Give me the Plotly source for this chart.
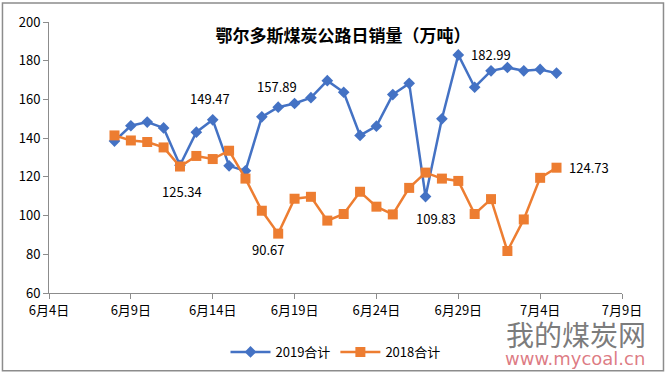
import plotly.graph_objects as go

dates = ["2019-06-08","2019-06-09","2019-06-10","2019-06-11","2019-06-12","2019-06-13","2019-06-14",
         "2019-06-15","2019-06-16","2019-06-17","2019-06-18","2019-06-19","2019-06-20","2019-06-21",
         "2019-06-22","2019-06-23","2019-06-24","2019-06-25","2019-06-26","2019-06-27","2019-06-28",
         "2019-06-29","2019-06-30","2019-07-01","2019-07-02","2019-07-03","2019-07-04","2019-07-05"]
s2019 = [138.5,146.4,148.3,145.3,126.0,143.1,149.47,125.7,123.1,151.0,156.0,157.89,160.9,169.7,
         163.7,141.4,146.2,162.5,168.3,109.83,150.0,182.99,166.3,174.8,176.5,174.8,175.5,173.6]
s2018 = [141.4,138.8,138.0,135.2,125.34,130.8,129.2,133.5,119.1,102.5,90.67,108.7,109.7,97.4,
         100.8,112.3,104.6,100.6,114.3,122.2,119.1,117.9,100.8,108.5,81.7,98.0,119.5,124.73]
tick_vals = ["2019-06-04","2019-06-09","2019-06-14","2019-06-19","2019-06-24","2019-06-29","2019-07-04","2019-07-09"]
tick_text = ["6月4日","6月9日","6月14日","6月19日","6月24日","6月29日","7月4日","7月9日"]
name2019 = "2019合计"
name2018 = "2018合计"
title = "鄂尔多斯煤炭公路日销量（万吨）"

BLUE = "#4472C4"
ORANGE = "#ED7D31"
FONT = "Noto Sans CJK SC"

fig = go.Figure()
fig.add_trace(go.Scatter(x=dates, y=s2019, name=name2019, mode="lines+markers",
                         line=dict(color=BLUE, width=2.5),
                         marker=dict(symbol="diamond", size=9, color=BLUE)))
fig.add_trace(go.Scatter(x=dates, y=s2018, name=name2018, mode="lines+markers",
                         line=dict(color=ORANGE, width=2.5),
                         marker=dict(symbol="square", size=10, color=ORANGE)))

# data labels: (series, index, xshift, yshift)
labels = [(s2019, 6, -3, 21), (s2019, 11, -18, 17), (s2018, 4, 2, -25), (s2018, 10, -10, -16),
          (s2019, 21, 33, 0), (s2019, 19, 10, -22), (s2018, 27, 32, 0)]
for ser, i, xs, ys in labels:
    fig.add_annotation(x=dates[i], y=ser[i], text=f"{ser[i]:.2f}", showarrow=False,
                       xshift=xs, yshift=ys, font=dict(size=13, color="#000", family=FONT))

# watermark
fig.add_annotation(xref="paper", yref="paper", x=1.045, y=-0.152, text="我的煤炭网", showarrow=False,
                   xanchor="right", yanchor="middle", font=dict(size=28, color="rgba(100,100,100,0.85)", family=FONT))
fig.add_annotation(xref="paper", yref="paper", x=1.043, y=-0.243, text="www.mycoal.cn", showarrow=False,
                   xanchor="right", yanchor="middle", font=dict(size=18, color="rgba(215,100,110,0.85)", family="DejaVu Sans"))

# outer border
fig.add_shape(type="rect", xref="paper", yref="paper", x0=-0.0812, x1=1.0724, y0=-0.2868, y1=1.0699,
              line=dict(color="#8c8c8c", width=1.5), layer="below")

fig.update_layout(
    width=666, height=378,
    margin=dict(l=49, r=44, t=22, b=84),
    paper_bgcolor="white", plot_bgcolor="white",
    font=dict(family=FONT, color="#000", size=13),
    title=dict(text=f"<b>{title}</b>", x=0.513, xanchor="center", xref="paper", y=0.905, yanchor="middle",
               font=dict(size=17, color="#000", family=FONT)),
    showlegend=True,
    legend=dict(orientation="h", x=0.5, xanchor="center", y=-0.213, yanchor="middle",
                font=dict(size=13, family=FONT), itemwidth=40, bgcolor="rgba(0,0,0,0)"),
    xaxis=dict(type="date", range=["2019-06-04", "2019-07-09"], tickvals=tick_vals, ticktext=tick_text,
               showgrid=False, zeroline=False, showline=True, linecolor="#8c8c8c", linewidth=1,
               ticks="outside", ticklen=5, tickcolor="#8c8c8c", tickfont=dict(size=13)),
    yaxis=dict(range=[60, 200], dtick=20, showgrid=False, zeroline=False, showline=True,
               linecolor="#8c8c8c", linewidth=1, ticks="outside", ticklen=5, tickcolor="#8c8c8c",
               tickfont=dict(size=13)),
)

fig.write_html("out.html", config={"displayModeBar": False},
               post_script="document.body.style.margin='0';")
